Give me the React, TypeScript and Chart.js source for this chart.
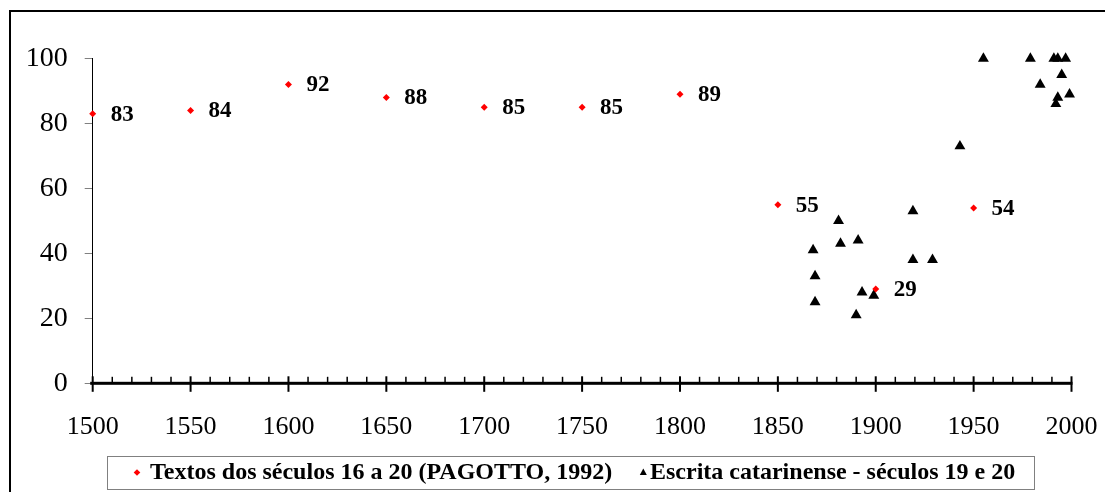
import React, { useEffect, useRef } from "react";
import { Chart, registerables } from "chart.js";

Chart.register(...registerables);

// ---- data ----
const seriesNames = [
  "Textos dos séculos 16 a 20 (PAGOTTO, 1992)",
  "Escrita catarinense - séculos 19 e 20",
];
const pagottoYears = [1500, 1550, 1600, 1650, 1700, 1750, 1800, 1850, 1900, 1950];
const pagottoValues = [83, 84, 92, 88, 85, 85, 89, 55, 29, 54];
const catarinaYears = [
  1868, 1869, 1869, 1881, 1882, 1891, 1890, 1893, 1899, 1919, 1919, 1929,
  1943, 1955, 1979, 1984, 1991, 1993, 1997, 1995, 1999, 1993, 1992,
];
const catarinaValues = [
  41, 33, 25, 50, 43, 44, 21, 28, 27, 53, 38, 38,
  73, 100, 100, 92, 100, 100, 100, 95, 89, 88, 86,
];
const xMin = 1500;
const xMax = 2000;
const xMajorStep = 50;
const xMinorStep = 10;
const yMin = 0;
const yMax = 100;
const yStep = 20;

const SERIF = "'Liberation Serif', 'Times New Roman', serif";

const framePlugin = {
  id: "frame",
  beforeDraw(chart: any) {
    const ctx = chart.ctx;
    ctx.save();
    ctx.fillStyle = "#ffffff";
    ctx.fillRect(0, 0, chart.width, chart.height);
    ctx.strokeStyle = "#000000";
    ctx.lineWidth = 2;
    ctx.strokeRect(10, 11, chart.width + 50, chart.height + 50);
    ctx.restore();
  },
};

const xAxisPlugin = {
  id: "xAxisTicks",
  afterDraw(chart: any) {
    const ctx = chart.ctx;
    const xs = chart.scales.x;
    const y = chart.chartArea.bottom;
    ctx.save();
    ctx.fillStyle = "#000";
    ctx.fillRect(xs.left - 2.5, y - 1.5, xs.right - xs.left + 3.5, 3);
    ctx.strokeStyle = "#000";
    for (let v = xMin; v <= xMax; v += xMinorStep) {
      const px = xs.getPixelForValue(v);
      ctx.beginPath();
      if ((v - xMin) % xMajorStep === 0) {
        ctx.lineWidth = 2;
        ctx.moveTo(px, y - 7);
        ctx.lineTo(px, y + 8.5);
      } else {
        ctx.lineWidth = 1.5;
        ctx.moveTo(px, y - 6.5);
        ctx.lineTo(px, y);
      }
      ctx.stroke();
    }
    ctx.restore();
  },
};

const labelsPlugin = {
  id: "valueLabels",
  afterDatasetsDraw(chart: any) {
    const ctx = chart.ctx;
    const meta = chart.getDatasetMeta(0);
    ctx.save();
    ctx.font = `bold 23px ${SERIF}`;
    ctx.fillStyle = "#000";
    ctx.textAlign = "left";
    ctx.textBaseline = "middle";
    meta.data.forEach((el: any, i: number) => {
      ctx.fillText(String(pagottoValues[i]), el.x + 18, el.y + 1);
    });
    ctx.restore();
  },
};

const legendPlugin = {
  id: "boxLegend",
  afterDraw(chart: any) {
    const ctx = chart.ctx;
    ctx.save();
    ctx.strokeStyle = "#808080";
    ctx.lineWidth = 1;
    ctx.strokeRect(107.5, 456.5, 927, 33);
    const cy = 472.5;
    ctx.fillStyle = "#ff0000";
    ctx.beginPath();
    ctx.moveTo(137, cy - 3.3);
    ctx.lineTo(140.3, cy);
    ctx.lineTo(137, cy + 3.3);
    ctx.lineTo(133.7, cy);
    ctx.closePath();
    ctx.fill();
    ctx.fillStyle = "#000";
    ctx.beginPath();
    ctx.moveTo(643.3, cy - 4);
    ctx.lineTo(646.8, cy + 2.5);
    ctx.lineTo(639.8, cy + 2.5);
    ctx.closePath();
    ctx.fill();
    ctx.font = `bold 24px ${SERIF}`;
    ctx.textAlign = "left";
    ctx.textBaseline = "middle";
    ctx.fillText(seriesNames[0], 150, cy);
    ctx.fillText(seriesNames[1], 650, cy);
    ctx.restore();
  },
};

export default function App() {
  const ref = useRef<HTMLCanvasElement | null>(null);
  useEffect(() => {
    if (!ref.current) return;
    Chart.defaults.font.family = SERIF;
    Chart.defaults.color = "#000";
    const chart = new Chart(ref.current, {
      type: "scatter",
      data: {
        datasets: [
          {
            label: seriesNames[0],
            data: pagottoYears.map((x, i) => ({ x, y: pagottoValues[i] })),
            pointStyle: "rectRot",
            pointRadius: 3.5,
            pointHoverRadius: 3.5,
            backgroundColor: "#ff0000",
            borderColor: "#ff0000",
            borderWidth: 0,
            clip: false,
          },
          {
            label: seriesNames[1],
            data: catarinaYears.map((x, i) => ({ x, y: catarinaValues[i] })),
            pointStyle: "triangle",
            pointRadius: 6.3,
            pointHoverRadius: 6.3,
            backgroundColor: "#000000",
            borderColor: "#000000",
            borderWidth: 0,
            clip: false,
          },
        ],
      },
      options: {
        animation: false,
        responsive: false,
        events: [],
        layout: { padding: { left: 0, right: 33.5, top: 58.5, bottom: 0 } },
        plugins: {
          legend: { display: false },
          tooltip: { enabled: false },
        },
        scales: {
          x: {
            type: "linear",
            min: xMin,
            max: xMax,
            ticks: {
              stepSize: xMajorStep,
              padding: 0,
              font: { size: 26, family: SERIF },
              color: "#000",
              callback: (v: any) => String(v),
            },
            grid: {
              display: true,
              drawOnChartArea: false,
              drawTicks: true,
              tickLength: 28,
              color: "rgba(0,0,0,0)",
            },
            border: { display: false },
            afterFit: (s: any) => {
              s.height = 108.7;
            },
          },
          y: {
            min: yMin,
            max: yMax,
            ticks: {
              stepSize: yStep,
              padding: 17,
              font: { size: 28, family: SERIF },
              color: "#000",
            },
            grid: {
              display: true,
              drawOnChartArea: false,
              drawTicks: true,
              tickLength: 8,
              color: "#808080",
              lineWidth: 1,
            },
            border: { display: true, color: "#000", width: 1 },
            afterFit: (s: any) => {
              s.width = 92.7;
            },
          },
        },
      },
      plugins: [framePlugin, xAxisPlugin, labelsPlugin, legendPlugin],
    });
    return () => chart.destroy();
  }, []);
  return (
    <canvas
      ref={ref}
      width={1105}
      height={492}
      style={{ position: "absolute", left: 0, top: 0, display: "block" }}
    />
  );
}
